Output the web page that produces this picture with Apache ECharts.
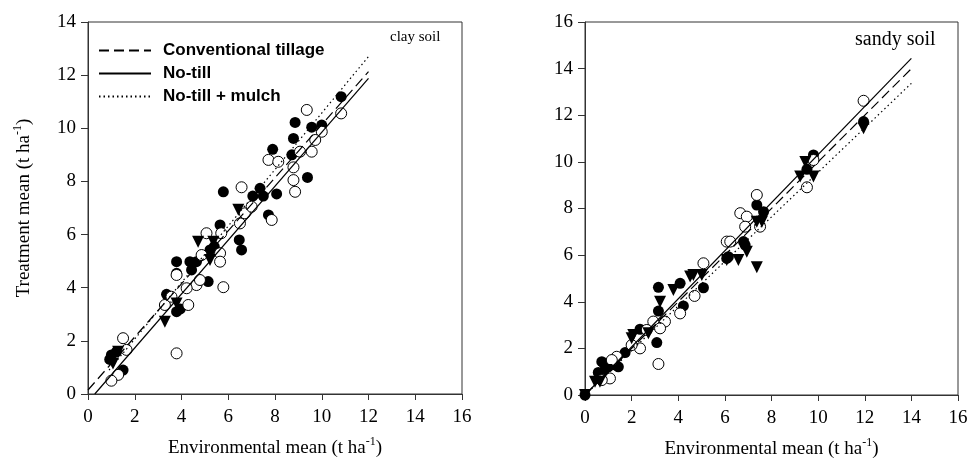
<!DOCTYPE html>
<html>
<head>
<meta charset="utf-8">
<script src="https://cdn.jsdelivr.net/npm/echarts@6/dist/echarts.min.js"></script>
<style>html,body{margin:0;padding:0;background:#fff;}#c{width:973px;height:470px;}</style>
</head>
<body>
<div id="c"></div>
<script>
// ---- data (environmental mean, treatment mean) ----
const clayFilled = [[10.83,11.19],[8.86,10.22],[9.57,10.04],[10.0,10.12],[8.79,9.62],[7.9,9.21],[8.72,9.0],[9.39,8.15],[5.79,7.61],[7.36,7.74],[7.05,7.45],[7.5,7.45],[8.07,7.53],[7.72,6.74],[5.65,6.36],[6.47,5.8],[6.57,5.42],[5.22,5.42],[5.4,5.55],[3.79,4.98],[4.36,4.98],[4.64,4.98],[4.43,4.67],[3.79,4.54],[5.14,4.23],[3.36,3.75],[3.79,3.1],[3.95,3.2],[1.0,1.47],[1.22,1.59],[1.5,0.9],[0.93,1.3]];
const clayOpen = [[9.36,10.69],[10.83,10.56],[10.0,9.87],[9.72,9.56],[9.57,9.12],[9.07,9.12],[7.72,8.81],[8.14,8.74],[8.79,8.53],[8.79,8.05],[8.86,7.61],[6.57,7.78],[6.71,6.8],[7.86,6.55],[7.0,7.05],[6.5,6.42],[5.07,6.05],[5.7,6.05],[5.65,5.3],[4.86,5.23],[5.65,4.98],[3.79,4.48],[4.64,4.1],[4.79,4.29],[5.79,4.02],[4.22,3.98],[3.29,3.35],[4.29,3.35],[3.57,3.66],[3.79,1.53],[1.5,2.1],[1.65,1.66],[1.29,0.72],[1.0,0.5]];
const clayTri = [[6.43,6.93],[4.71,5.73],[5.36,5.73],[5.22,5.04],[3.79,3.41],[3.29,2.72],[1.29,1.59],[1.07,1.15]];

const sandyFilled = [[0,0],[11.95,11.73],[9.8,10.3],[9.52,9.68],[7.37,8.15],[7.66,7.86],[6.8,6.58],[6.87,6.43],[6.08,5.86],[6.15,5.93],[4.08,4.79],[5.08,4.6],[3.15,4.62],[4.22,3.82],[3.15,3.6],[2.36,2.82],[3.08,2.25],[1.72,1.82],[1.43,1.21],[1.29,1.29],[0.72,1.43],[0.57,0.97],[1.0,1.21]];
const sandyOpen = [[11.95,12.62],[9.8,10.08],[9.52,8.91],[7.37,8.58],[6.66,7.8],[6.94,7.65],[6.87,7.22],[7.51,7.22],[6.08,6.58],[6.23,6.58],[5.08,5.65],[4.7,4.25],[4.08,3.5],[2.93,3.15],[3.43,3.15],[3.22,2.86],[2.65,2.79],[3.15,1.33],[2.36,2.0],[2.0,2.14],[1.36,1.64],[1.15,1.5],[1.07,0.71],[0.72,0.64]];
const sandyTri = [[11.95,11.44],[9.45,10.0],[9.8,9.37],[9.23,9.37],[7.37,7.43],[7.59,7.43],[6.94,6.15],[6.58,5.79],[6.08,5.79],[7.37,5.48],[5.01,5.15],[4.65,5.15],[4.51,5.08],[3.79,4.5],[3.22,4.0],[2.72,2.65],[2.07,2.57],[2.0,2.43],[0.93,1.07],[0.86,1.0],[0.64,0.57],[0.43,0.57],[0,0]];

// regression line end points
const clayCT = [[0,0.15],[12,12.13]];
const clayNT = [[0.29,0],[12,11.88]];
const clayNTM = [[0.9,0.9],[12,12.7]];
const sandyCT = [[0,0],[14,14.0]];
const sandyNT = [[0,0],[14,14.44]];
const sandyNTM = [[0,0],[14,13.37]];

const lineNames = ['Conventional tillage','No-till','No-till + mulch'];
const xTicksMax = 16, clayYMax = 14, sandyYMax = 16;

const serif = 'Liberation Serif';
const axisCol = '#333';
const richName = {a:{fontFamily:serif, fontSize:19, color:'#000'}, s:{fontFamily:serif, fontSize:12, color:'#000', padding:[0,0,12,0]}};
function xAx(gi){
  return {gridIndex:gi, type:'value', min:0, max:xTicksMax, interval:2,
    axisLine:{show:true, onZero:false, lineStyle:{color:axisCol, width:1}},
    axisTick:{show:true, inside:false, length:6, lineStyle:{color:axisCol}},
    axisLabel:{color:'#000', fontFamily:serif, fontSize:19, margin:14},
    splitLine:{show:false},
    name: '{a|Environmental mean (t ha}{s|-1}{a|)}',
    nameLocation:'middle', nameGap:42,
    nameTextStyle:{rich:richName}
  };
}
function yAx(gi, max, withName){
  const o = {gridIndex:gi, type:'value', min:0, max:max, interval:2,
    axisLine:{show:true, onZero:false, lineStyle:{color:axisCol, width:1}},
    axisTick:{show:true, inside:false, length:7, lineStyle:{color:axisCol}},
    axisLabel:{color:'#000', fontFamily:serif, fontSize:19, margin:12},
    splitLine:{show:false}};
  if (withName){
    o.name = '{a|Treatment mean (t ha}{s|-1}{a|)}';
    o.nameLocation = 'middle'; o.nameGap = 52;
    o.nameTextStyle = {rich:richName};
  }
  return o;
}
function filled(data, gi){ return {type:'scatter', xAxisIndex:gi, yAxisIndex:gi, data:data, symbol:'circle', symbolSize:11, itemStyle:{color:'#000', opacity:1}, z:3}; }
function open(data, gi){ return {type:'scatter', xAxisIndex:gi, yAxisIndex:gi, data:data, symbol:'circle', symbolSize:11, itemStyle:{color:'#fff', borderColor:'#000', borderWidth:1, opacity:1}, z:4}; }
function tri(data, gi){ return {type:'scatter', xAxisIndex:gi, yAxisIndex:gi, data:data, symbol:'triangle', symbolRotate:180, symbolSize:12, itemStyle:{color:'#000', opacity:1}, z:5}; }
const dashT = [[10,5],'solid',[1.5,3]];
function reg(name, data, gi, k){
  return {type:'line', name:name, xAxisIndex:gi, yAxisIndex:gi, data:data, symbol:'none', showSymbol:false,
    lineStyle:{color:'#000', width:1.2, type:dashT[k]}, itemStyle:{color:'#000'}, z:6, silent:true};
}

const chart = echarts.init(document.getElementById('c'), null, {renderer:'canvas'});
chart.setOption({
  animation:false,
  backgroundColor:'#fff',
  grid:[
    {left:88, top:22, width:374, height:372, show:true, borderColor:axisCol, borderWidth:1, backgroundColor:'transparent'},
    {left:585, top:22, width:373, height:373, show:true, borderColor:axisCol, borderWidth:1, backgroundColor:'transparent'}
  ],
  xAxis:[xAx(0), xAx(1)],
  yAxis:[yAx(0, clayYMax, true), yAx(1, sandyYMax, false)],
  legend:{data:lineNames, orient:'vertical', left:93, top:37, itemWidth:52, itemHeight:14, itemGap:6,
    selectedMode:false,
    itemStyle:{opacity:0},
    textStyle:{fontFamily:'Liberation Sans', fontWeight:'bold', fontSize:17, color:'#000', padding:[0,0,0,7]}},
  title:[
    {text:'clay soil', left:390, top:30, padding:0, textStyle:{fontFamily:serif, fontWeight:'normal', fontSize:15, color:'#000'}},
    {text:'sandy soil', left:855, top:30, padding:0, textStyle:{fontFamily:serif, fontWeight:'normal', fontSize:20, color:'#000'}}
  ],
  series:[
    filled(clayFilled,0), open(clayOpen,0), tri(clayTri,0),
    reg(lineNames[0], clayCT, 0, 0), reg(lineNames[1], clayNT, 0, 1), reg(lineNames[2], clayNTM, 0, 2),
    filled(sandyFilled,1), open(sandyOpen,1), tri(sandyTri,1),
    reg(lineNames[0], sandyCT, 1, 0), reg(lineNames[1], sandyNT, 1, 1), reg(lineNames[2], sandyNTM, 1, 2)
  ]
});
</script>
</body>
</html>
